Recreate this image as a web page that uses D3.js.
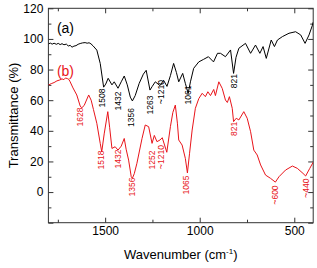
<!DOCTYPE html>
<html lang="en">
<head>
    <meta charset="UTF-8">
    <title>FTIR spectra</title>
    <script src="https://cdn.jsdelivr.net/npm/d3@7"></script>
    <style>
        body { margin: 0; background: #fff; }
        svg { font-family: "Liberation Sans", Arial, sans-serif; display: block; }
        .peak { font-family: "Liberation Sans Narrow", "Arial Narrow", "Liberation Sans", sans-serif; }
    </style>
</head>
<body>
    <svg id="chart" width="317" height="268"></svg>
    <script>
        // spectrum (a): [wavenumber, transmittance]
        const waveA = [1800,1790,1780,1770,1758,1748,1738,1728,1718,1705,1695,1685,1675,1665,1654,1643,1632,1620,1606,1595,1585,1575,1564,1544,1526,1508,1497,1484,1464,1452,1432,1415,1399,1383,1367,1356,1341,1320,1298,1283,1263,1251,1235,1210,1191,1173,1155,1138,1123,1111,1090,1076,1061,1049,1032,1005,979,954,927,906,890,864,837,821,808,793,758,731,705,682,665,648,622,605,589,563,528,493,466,443,422,404,400];
        const transA = [96.7,97.3,96.6,97.2,96.5,97.1,96.3,96.9,96.2,96.6,95.4,95.8,94.6,95.3,95.6,96.5,97,97.4,97.6,97.2,97.5,96.8,95.5,92.7,84,68.5,70.5,74.3,70,72,67.8,72,75.8,70,62,59.5,63,71,77,79.5,66.6,69,72,69.5,73,69,76,84,78,72,77.5,71,64.5,72,80.8,85,86.7,88.4,85,90.6,90.6,88.4,92.8,77.5,88,93.9,97.1,90.6,96,90.6,95,87.3,99.3,95,99.3,101.5,103.7,104.7,102.6,97.1,102.6,109,111];

        // spectrum (b)
        const waveB = [1800,1785,1770,1755,1740,1728,1718,1710,1700,1692,1685,1670,1650,1632,1624,1611,1587,1574,1562,1544,1526,1518,1505,1486,1476,1464,1447,1432,1415,1399,1389,1376,1362,1356,1346,1332,1305,1288,1270,1252,1240,1226,1210,1198,1174,1155,1142,1129,1118,1111,1093,1076,1065,1054,1040,1023,1005,987,970,957,943,926,917,899,881,864,854,843,828,821,807,793,767,749,731,714,696,678,652,626,600,581,546,510,484,454,440,418,400];
        const transB = [69.9,70.8,71.5,72.6,73.2,73.9,73.4,74.5,74.1,73.6,72,68,63.4,56.2,55,56.5,63.4,60,54,44.9,31.8,26.3,38,52.5,42,28.5,29.6,27.4,30,35,28,20.9,10,9,12,18.8,35,43.8,42.7,31.8,37,32.9,34,35.5,26,42.7,52,56.8,45,34,30.7,22,12.5,25,40.5,54.7,61,64.5,62.3,65.5,63,67,63,72,67.7,60.1,58.5,62.3,54.7,46,48.2,47.1,52.5,48.2,39.4,27.4,24.2,17.7,11.1,9,6.5,10,14.4,17,15.5,12.2,10.5,15.5,19.5];

        // peak labels: text, wavenumber and transmittance of the label centre
        const labelsA = ['1508','1432','1356','1263','~1210','1061','821'];
        const labelWaveA = [1516,1434,1365,1261,1206,1060,821];
        const labelTransA = [61.4,59.5,48.7,56.8,65.3,63.4,72.5];

        const labelsB = ['1628','1518','1432','1356','1252','~1210','1065','821','~600','~440'];
        const labelWaveB = [1632,1521,1434,1357,1254,1206,1070,821,601,437];
        const labelTransB = [49,20.9,21.6,3.3,20.9,22.9,4.6,41.2,-1.9,2.6];

        const xMajor = [1500, 1000, 500];
        const xMinor = [1750, 1250, 750];
        const yMajor = [-20, 0, 20, 40, 60, 80, 100, 120];
        const yMinor = [-10, 10, 30, 50, 70, 90, 110];

        const colorA = '#000000';
        const colorB = '#e8141a';

        const svg = d3.select('#chart');
        const plotLeft = 48.4, plotRight = 313.2, plotTop = 8.3, plotBottom = 222.7;

        const x = d3.scaleLinear().domain([1800, 400]).range([plotLeft, plotRight]);
        const y = d3.scaleLinear().domain([-20, 120]).range([plotBottom, plotTop]);

        const g = svg.append('g');

        // axes with inward ticks, mirrored on top and right
        function styleAxis(sel) {
            sel.select('.domain').remove();
            sel.selectAll('line').attr('stroke', '#333').attr('stroke-width', 1);
            sel.selectAll('text').attr('font-size', 12).attr('fill', '#000');
        }

        g.append('g').attr('transform', `translate(0,${plotBottom})`)
            .call(d3.axisBottom(x).tickValues(xMajor).tickSize(-5).tickPadding(4).tickFormat(d3.format('d')))
            .call(styleAxis);
        g.append('g').attr('transform', `translate(0,${plotBottom})`)
            .call(d3.axisBottom(x).tickValues(xMinor).tickSize(-3).tickFormat(''))
            .call(styleAxis);
        g.append('g').attr('transform', `translate(0,${plotTop})`)
            .call(d3.axisTop(x).tickValues(xMajor).tickSize(-5).tickFormat(''))
            .call(styleAxis);
        g.append('g').attr('transform', `translate(0,${plotTop})`)
            .call(d3.axisTop(x).tickValues(xMinor).tickSize(-3).tickFormat(''))
            .call(styleAxis);

        g.append('g').attr('transform', `translate(${plotLeft},0)`)
            .call(d3.axisLeft(y).tickValues(yMajor).tickSize(-5).tickPadding(5)
                .tickFormat(d => d < 0 ? '' : d))
            .call(styleAxis);
        g.append('g').attr('transform', `translate(${plotLeft},0)`)
            .call(d3.axisLeft(y).tickValues(yMinor).tickSize(-3).tickFormat(''))
            .call(styleAxis);
        g.append('g').attr('transform', `translate(${plotRight},0)`)
            .call(d3.axisRight(y).tickValues(yMajor).tickSize(-5).tickFormat(''))
            .call(styleAxis);
        g.append('g').attr('transform', `translate(${plotRight},0)`)
            .call(d3.axisRight(y).tickValues(yMinor).tickSize(-3).tickFormat(''))
            .call(styleAxis);

        // frame
        g.append('rect')
            .attr('x', plotLeft).attr('y', plotTop)
            .attr('width', plotRight - plotLeft).attr('height', plotBottom - plotTop)
            .attr('fill', 'none').attr('stroke', '#333').attr('stroke-width', 1);

        // clip the spectra to the plot box
        svg.append('clipPath').attr('id', 'clip')
            .append('rect').attr('x', plotLeft).attr('y', plotTop)
            .attr('width', plotRight - plotLeft).attr('height', plotBottom - plotTop);

        const line = d3.line().x(d => x(d[0])).y(d => y(d[1])).curve(d3.curveLinear);

        g.append('path')
            .datum(d3.zip(waveA, transA))
            .attr('clip-path', 'url(#clip)')
            .attr('d', line)
            .attr('fill', 'none').attr('stroke', colorA).attr('stroke-width', 1);

        g.append('path')
            .datum(d3.zip(waveB, transB))
            .attr('clip-path', 'url(#clip)')
            .attr('d', line)
            .attr('fill', 'none').attr('stroke', colorB).attr('stroke-width', 1);

        // rotated peak labels
        function drawLabels(texts, waves, trans, color) {
            g.selectAll(null)
                .data(d3.zip(texts, waves, trans))
                .enter().append('text')
                .attr('class', 'peak')
                .attr('transform', d => `translate(${x(d[1])},${y(d[2])}) rotate(-90)`)
                .attr('text-anchor', 'middle')
                .attr('dy', '0.35em')
                .attr('font-size', 8.5)
                .attr('fill', color)
                .text(d => d[0]);
        }
        drawLabels(labelsA, labelWaveA, labelTransA, colorA);
        drawLabels(labelsB, labelWaveB, labelTransB, colorB);

        // series tags
        g.append('text').attr('x', x(1755)).attr('y', y(107)).attr('dy', '0.35em')
            .attr('font-size', 14).attr('fill', colorA).text('(a)');
        g.append('text').attr('x', x(1755)).attr('y', y(79)).attr('dy', '0.35em')
            .attr('font-size', 14).attr('fill', colorB).text('(b)');

        // axis titles
        svg.append('text')
            .attr('transform', `translate(13,${(plotTop + plotBottom) / 2}) rotate(-90)`)
            .attr('text-anchor', 'middle').attr('dy', '0.35em')
            .attr('font-size', 13).text('Transmittance (%)');

        const xt = svg.append('text')
            .attr('x', (plotLeft + plotRight) / 2).attr('y', 259)
            .attr('text-anchor', 'middle').attr('font-size', 13);
        xt.append('tspan').text('Wavenumber (cm');
        xt.append('tspan').attr('dy', -5).attr('font-size', 8).text('-1');
        xt.append('tspan').attr('dy', 5).text(')');
    </script>
</body>
</html>
